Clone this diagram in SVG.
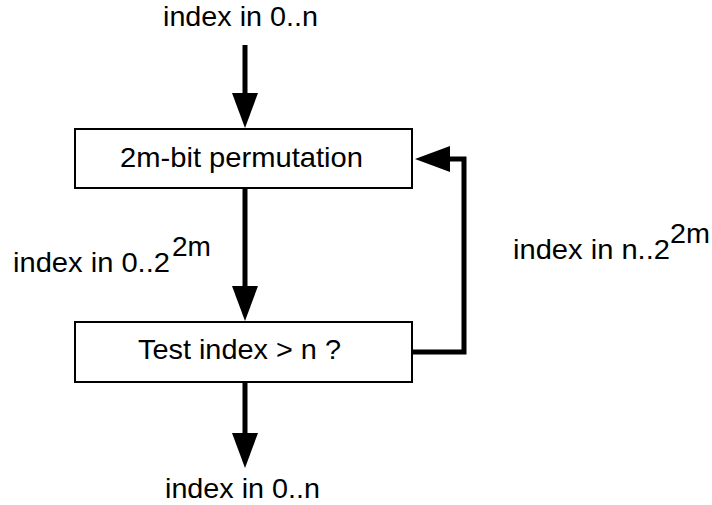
<svg xmlns="http://www.w3.org/2000/svg" width="712" height="505" viewBox="0 0 712 505">
<style>
.box{fill:#fff;stroke:#000;stroke-width:2}
.t{font-family:"Liberation Sans",Arial,Helvetica,sans-serif;font-size:28px;fill:#000}
.conn{fill:none;stroke:#000;stroke-width:5;stroke-linejoin:miter}
</style>
<defs>
<marker id="ah" markerUnits="userSpaceOnUse" markerWidth="36" markerHeight="28" viewBox="0 -14 36 28" refX="0" refY="0" orient="auto" overflow="visible">
<path d="M0,-13 L35,0 L0,13 z" fill="#000"/>
</marker>
</defs>
<rect width="712" height="505" fill="#fff"/>
<g id="connectors">
<path class="conn" d="M245,45 V93" marker-end="url(#ah)"/>
<path class="conn" d="M245,189 V286" marker-end="url(#ah)"/>
<path class="conn" d="M245,383 V433" marker-end="url(#ah)"/>
<path class="conn" d="M413,352 H464 V159 H450" marker-end="url(#ah)"/>
</g>
<g id="node-permutation">
<rect class="box" x="75" y="129" width="337" height="59"/>
<text class="t" x="120" y="167" textLength="243" lengthAdjust="spacingAndGlyphs">2m-bit permutation</text>
</g>
<g id="node-test">
<rect class="box" x="75" y="322" width="337" height="60"/>
<text class="t" x="138" y="359" textLength="203" lengthAdjust="spacingAndGlyphs">Test index &gt; n ?</text>
</g>
<g id="label-top">
<text class="t" x="163" y="26" textLength="155" lengthAdjust="spacingAndGlyphs">index in 0..n</text>
</g>
<g id="label-left">
<text class="t" x="13" y="272" textLength="157" lengthAdjust="spacingAndGlyphs">index in 0..2</text>
<text class="t" x="172" y="256" textLength="39" lengthAdjust="spacingAndGlyphs">2m</text>
</g>
<g id="label-right">
<text class="t" x="513" y="259" textLength="157" lengthAdjust="spacingAndGlyphs">index in n..2</text>
<text class="t" x="670" y="243" textLength="40" lengthAdjust="spacingAndGlyphs">2m</text>
</g>
<g id="label-bottom">
<text class="t" x="165" y="498" textLength="155" lengthAdjust="spacingAndGlyphs">index in 0..n</text>
</g>
</svg>
